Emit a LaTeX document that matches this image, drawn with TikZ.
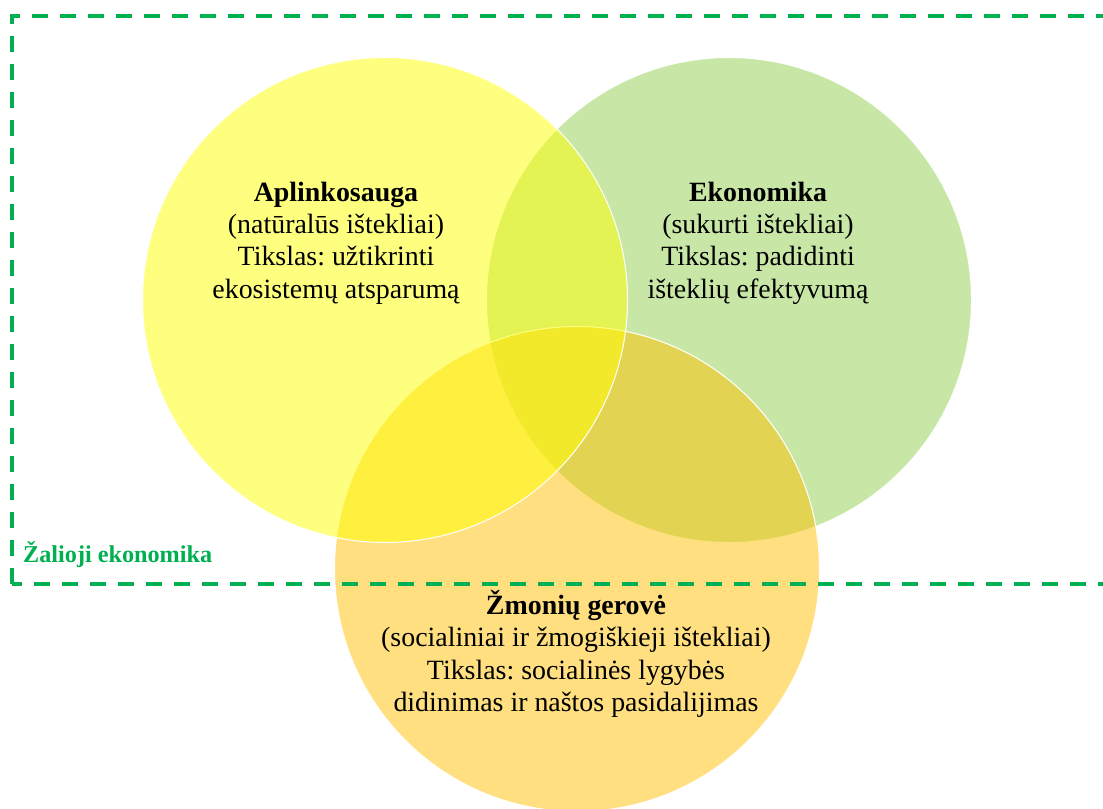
\documentclass[tikz,border=0pt]{standalone}
\usepackage{fontspec}
\setmainfont{Liberation Serif}
\usetikzlibrary{positioning}
\definecolor{venngreen}{HTML}{92D050}
\definecolor{venngold}{HTML}{FFC000}
\definecolor{vennyellow}{HTML}{FFFF00}
\definecolor{zonegreen}{HTML}{00B050}
\frenchspacing

\begin{document}
\begin{tikzpicture}[
    x=1bp, y=-1bp,
    every node/.style={inner sep=0pt},
    set/.style={circle, minimum size=485bp, fill opacity=0.5, draw=white, line width=1pt},
    setlabel/.style={align=center, font=\fontsize{28}{32.5}\selectfont, text=black},
    zone/.style={draw=zonegreen, line width=4bp, dash pattern=on 16bp off 12bp}
]

   \useasboundingbox (0,0) rectangle (1103,809);

   % Sets, back to front
   \node[set, fill=venngreen] (eco) at (729,300) {};
   \node[set, fill=venngold] (soc) at (577,569) {};
   \node[set, fill=vennyellow] (env) at (385,300) {};

   % Texts
   \node[setlabel] (envtxt) at (336,243) {\textbf{Aplinkosauga}\\(natūralūs ištekliai)\\Tikslas: užtikrinti\\ekosistemų atsparumą};
   \node[setlabel] (ecotxt) at (758,243) {\textbf{Ekonomika}\\(sukurti ištekliai)\\Tikslas: padidinti\\išteklių efektyvumą};
   \node[setlabel] (soctxt) at (576,654) {\textbf{Žmonių gerovė}\\(socialiniai ir žmogiškieji ištekliai)\\Tikslas: socialinės lygybės\\didinimas ir naštos pasidalijimas};

   % Green economy frame
   \draw[zone] (12,584) -- (12,16) -- (1115,16) -- (1115,584) -- cycle;
   \node[anchor=base west, text=zonegreen, font=\fontsize{24.3}{28}\selectfont\bfseries] (zonetxt) at (23,562) {Žalioji ekonomika};
\end{tikzpicture}
\end{document}
